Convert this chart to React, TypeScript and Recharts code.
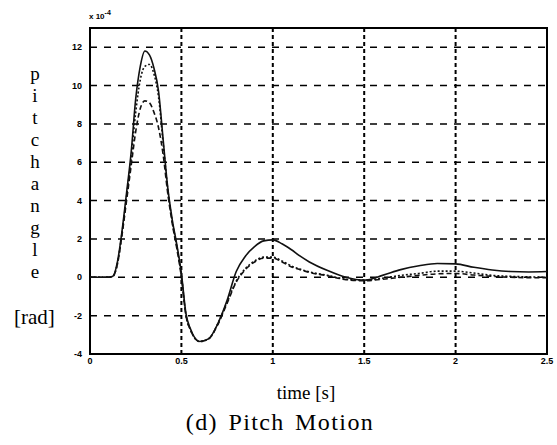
import React from "react"
import {
  CartesianGrid,
  Line,
  LineChart,
  ReferenceArea,
  XAxis,
  YAxis,
} from "recharts"

// time axis [s] (denser around the first peak)
const times = [
  0, 0.1, 0.125, 0.15, 0.175, 0.2, 0.225, 0.25, 0.275, 0.3, 0.325, 0.35, 0.375, 0.4,
  0.425, 0.45, 0.475, 0.5, 0.525, 0.55, 0.6, 0.65, 0.7, 0.75, 0.8, 0.85, 0.9, 0.95, 1.0,
  1.05, 1.1, 1.15, 1.2, 1.3, 1.4, 1.5, 1.6, 1.7, 1.8, 1.9, 2.0, 2.1, 2.2, 2.3, 2.4, 2.5,
]

// pitch angle, x 1e-4 rad
const pitchSolid = [
  0, 0, 0.05, 0.8, 2.4, 4.4, 6.5, 9.3, 11.0, 11.8, 11.6, 10.9, 9.7, 7.2, 4.7, 3.0, 1.7,
  0.2, -1.9, -2.7, -3.35, -3.2, -2.4, -1.2, 0.3, 1.1, 1.6, 1.9, 1.95, 1.75, 1.45, 1.1,
  0.8, 0.35, 0.0, -0.15, 0.1, 0.4, 0.6, 0.72, 0.7, 0.52, 0.38, 0.3, 0.28, 0.3,
]
const pitchDotted = [
  0, 0, 0.05, 0.7, 2.3, 4.2, 6.2, 8.6, 10.3, 11.0, 11.1, 10.6, 9.4, 7.0, 4.6, 2.9, 1.6,
  0.1, -2.0, -2.75, -3.35, -3.2, -2.4, -1.3, -0.2, 0.45, 0.85, 1.05, 1.05, 0.85, 0.6,
  0.42, 0.28, 0.1, -0.1, -0.15, -0.05, 0.1, 0.2, 0.32, 0.32, 0.22, 0.1, 0.05, 0.02, 0,
]
const pitchDashed = [
  0, 0, 0.05, 0.7, 2.2, 4.0, 5.8, 7.6, 8.8, 9.2, 9.1, 8.6, 7.8, 6.4, 4.4, 2.8, 1.5, 0.0,
  -2.0, -2.75, -3.35, -3.2, -2.45, -1.35, -0.25, 0.4, 0.8, 1.0, 1.0, 0.8, 0.55, 0.4,
  0.25, 0.08, -0.12, -0.18, -0.1, 0.0, 0.1, 0.18, 0.2, 0.12, 0.05, 0.0, -0.02, -0.02,
]

const xTicks = [0, 0.5, 1, 1.5, 2, 2.5]
const yTicks = [-4, -2, 0, 2, 4, 6, 8, 10, 12]
const yLabelLetters = ["p", "i", "t", "c", "h", "a", "n", "g", "l", "e"]

const data = times.map((t, i) => ({
  t,
  a: pitchSolid[i],
  b: pitchDotted[i],
  c: pitchDashed[i],
}))

const tickStyle = {
  fontSize: 9,
  fontWeight: 700,
  fill: "#000",
  fontFamily: "Liberation Sans, Arial, sans-serif",
}

const serif = "'Liberation Serif', 'DejaVu Serif', serif"

export default function App() {
  return (
    <div
      style={{
        position: "absolute",
        left: 0,
        top: 0,
        width: 557,
        height: 445,
        background: "#fff",
        overflow: "hidden",
      }}
    >
      <LineChart
        width={557}
        height={445}
        data={data}
        margin={{ top: 28, right: 10, bottom: 71, left: 50 }}
      >
        <CartesianGrid
          horizontal={false}
          stroke="#000"
          strokeWidth={2}
          strokeDasharray="4 3"
          verticalValues={[0.5, 1, 1.5, 2]}
        />
        <CartesianGrid
          vertical={false}
          stroke="#000"
          strokeWidth={1.5}
          strokeDasharray="7 7"
          horizontalValues={[-2, 0, 2, 4, 6, 8, 10, 12]}
        />
        <XAxis
          dataKey="t"
          type="number"
          domain={[0, 2.5]}
          ticks={xTicks}
          tick={tickStyle}
          tickLine={false}
          tickSize={2}
          axisLine={false}
          height={20}
        />
        <YAxis
          type="number"
          domain={[-4, 13]}
          ticks={yTicks}
          tick={tickStyle}
          tickLine={false}
          axisLine={false}
          width={40}
        />
        <ReferenceArea
          x1={0}
          x2={2.5}
          y1={-4}
          y2={13}
          fill="none"
          stroke="#000"
          strokeWidth={2}
          fillOpacity={0}
        />
        <Line
          dataKey="a"
          type="monotone"
          stroke="#111"
          strokeWidth={1.6}
          dot={false}
          isAnimationActive={false}
        />
        <Line
          dataKey="b"
          type="monotone"
          stroke="#111"
          strokeWidth={1.6}
          strokeDasharray="2 2"
          dot={false}
          isAnimationActive={false}
        />
        <Line
          dataKey="c"
          type="monotone"
          stroke="#111"
          strokeWidth={1.6}
          strokeDasharray="5 3"
          dot={false}
          isAnimationActive={false}
        />
      </LineChart>

      {/* x 10^-4 scale factor */}
      <div
        style={{
          position: "absolute",
          left: 89,
          top: 9,
          fontSize: 8,
          fontWeight: 700,
          fontFamily: "Liberation Sans, Arial, sans-serif",
          whiteSpace: "nowrap",
        }}
      >
        x 10<sup style={{ fontSize: 7 }}>-4</sup>
      </div>

      {/* vertical y label */}
      <div
        style={{
          position: "absolute",
          left: 24,
          top: 63,
          width: 22,
          textAlign: "center",
          fontFamily: serif,
          fontSize: 19,
          lineHeight: "22px",
        }}
      >
        {yLabelLetters.map((ch, i) => (
          <div key={i} style={{ height: 22 }}>
            {ch}
          </div>
        ))}
      </div>
      <div
        style={{
          position: "absolute",
          left: 14,
          top: 305,
          fontFamily: serif,
          fontSize: 21,
          lineHeight: "24px",
        }}
      >
        [rad]
      </div>

      <div
        style={{
          position: "absolute",
          left: 206,
          width: 200,
          top: 381,
          textAlign: "center",
          fontFamily: serif,
          fontSize: 19,
          lineHeight: "24px",
        }}
      >
        time [s]
      </div>
      <div
        style={{
          position: "absolute",
          left: 130,
          width: 300,
          top: 408,
          textAlign: "center",
          fontFamily: serif,
          fontSize: 24,
          letterSpacing: 1.4,
          wordSpacing: 3,
          lineHeight: "28px",
        }}
      >
        (d) Pitch Motion
      </div>
    </div>
  )
}
